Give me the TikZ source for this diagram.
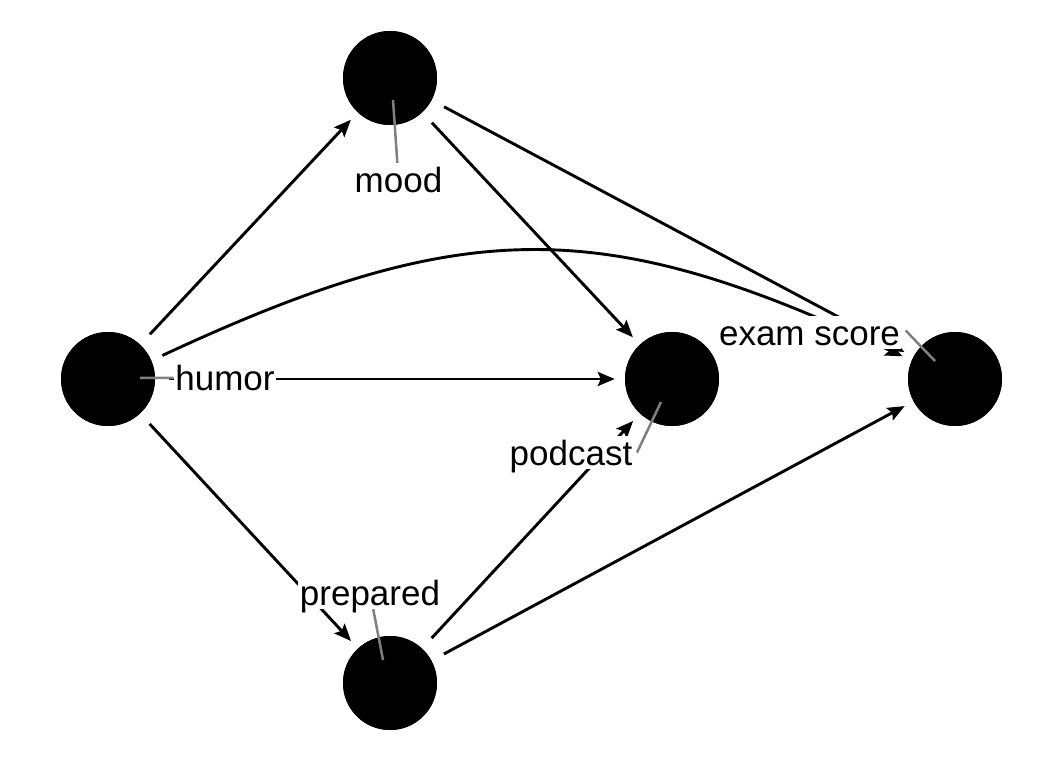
\documentclass[tikz,border=0pt]{standalone}
\usepackage{fontspec}
\setmainfont{Liberation Sans}
\usetikzlibrary{arrows.meta}
\begin{document}
\begin{tikzpicture}[x=1pt,y=-1pt,
  dagnode/.style={circle,fill=black,minimum size=94pt,inner sep=0pt},
  edge/.style={line width=2.9pt,-{Stealth[length=17pt,width=14pt,inset=3pt]},shorten <=14pt,shorten >=10pt},
  lbl/.style={fill=white,inner xsep=1.5pt,inner ysep=2pt,text height=27pt,text depth=2pt,font=\fontsize{35}{40}\selectfont},
  leader/.style={draw=black!50,line width=2.5pt}]
\useasboundingbox (0,0) rectangle (1056,768);
\node[dagnode] (humor) at (108,379) {};
\node[dagnode] (mood) at (390,78) {};
\node[dagnode] (podcast) at (672,379) {};
\node[dagnode] (exam) at (955,379) {};
\node[dagnode] (prepared) at (390,683) {};
% edges
\draw[edge] (humor) -- (mood);
\draw[edge] (humor) -- (podcast);
\draw[edge] (humor) -- (prepared);
\draw[edge,shorten <=12pt,shorten >=10pt] (humor.23) .. controls (464,215) and (603,215) .. (exam.157);
\draw[edge] (mood) -- (podcast);
\draw[edge] (mood) -- (exam);
\draw[edge] (prepared) -- (podcast);
\draw[edge] (prepared) -- (exam);
% redraw nodes on top
\node[dagnode] at (humor) {};
\node[dagnode] at (mood) {};
\node[dagnode] at (podcast) {};
\node[dagnode] at (exam) {};
\node[dagnode] at (prepared) {};
% labels
\node[lbl] (Lmood) at (398.5,179.5) {mood};
\node[lbl] (Lhumor) at (225,377.5) {humor};
\node[lbl] (Lpodcast) at (571,452.5) {podcast};
\node[lbl] (Lexam) at (809.5,332.5) {exam score};
\node[lbl] (Lprepared) at (370,592.5) {prepared};
\coordinate (Smood) at (393,100);
\coordinate (Shumor) at (140,378);
\coordinate (Spodcast) at (661,402);
\coordinate (Sexam) at (935,361);
\coordinate (Sprepared) at (383,660);
\draw[leader] (Smood) -- (Lmood);
\draw[leader] (Shumor) -- (Lhumor);
\draw[leader] (Spodcast) -- ([xshift=3pt]Lpodcast.east);
\draw[leader] (Sexam) -- ([xshift=4pt,yshift=2pt]Lexam.east);
\draw[leader] (Sprepared) -- (Lprepared);
% labels again on top of leaders
\node[lbl] at (Lmood) {mood};
\node[lbl] at (Lhumor) {humor};
\node[lbl] at (Lpodcast) {podcast};
\node[lbl] at (Lexam) {exam score};
\node[lbl] at (Lprepared) {prepared};
\end{tikzpicture}
\end{document}
